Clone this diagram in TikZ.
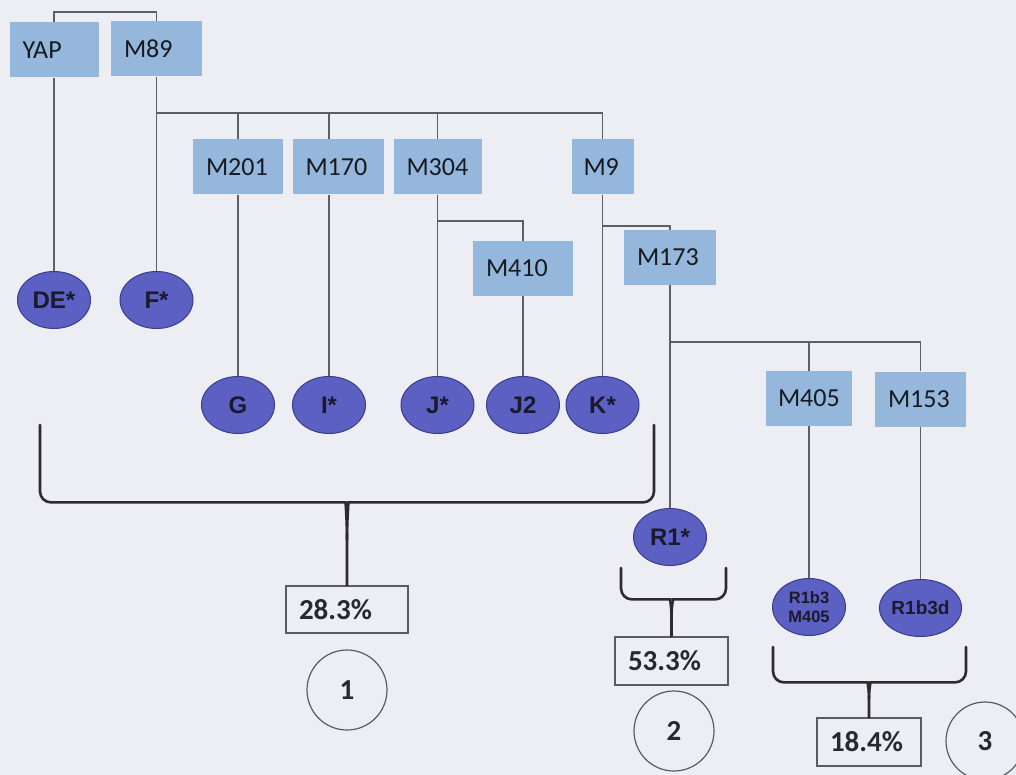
\documentclass[tikz,border=0pt]{standalone}
\usepackage{fontspec}
\setmainfont{Carlito}
\newfontfamily\hapfamily{Liberation Sans}
\usetikzlibrary{shapes.geometric,calc}

\definecolor{paper}{HTML}{EDEDF4}
\definecolor{boxblue}{HTML}{95B7DC}
\definecolor{boxink}{HTML}{161B22}
\definecolor{hapblue}{HTML}{5B60C2}
\definecolor{hapedge}{HTML}{3A3D88}
\definecolor{hapink}{HTML}{1A1A2C}
\definecolor{linkgray}{HTML}{5E5E66}
\definecolor{bracecol}{HTML}{302A30}
\definecolor{framegray}{HTML}{5A5A60}
\definecolor{pctink}{HTML}{262A30}

\tikzset{
  mbox/.style={fill=boxblue, draw=none, minimum height=55pt, inner xsep=13pt,
    inner ysep=0pt, align=left, text=boxink, font=\fontsize{26}{30}\selectfont},
  hap/.style={ellipse, fill=hapblue, draw=hapedge, line width=1pt,
    minimum width=73pt, minimum height=57pt, inner sep=0pt, align=center,
    text=hapink, font=\hapfamily\bfseries\fontsize{24}{28}\selectfont},
  link/.style={draw=linkgray, line width=1.3pt},
  brace/.style={draw=bracecol, line width=2.6pt, line cap=round, line join=round},
  pct/.style={draw=framegray, line width=1.2pt, fill=paper, inner xsep=13pt,
    inner ysep=0pt, align=left, text=pctink,
    font=\bfseries\fontsize{29}{33}\selectfont},
  grp/.style={circle, draw=framegray, line width=1.2pt, inner sep=0pt,
    text=pctink, font=\bfseries\fontsize{29}{33}\selectfont}
}

% curly bracket from two arm tops down to the node below its middle
% #1 left arm top, #2 right arm top, #3 drop from bar to node top, #4 node
\newcommand{\groupbrace}[4]{%
  \draw[brace] (#1) [rounded corners=11pt] |- ($(#4.north)+(-12,-#3)$)
    [sharp corners] .. controls +(10,0) and +(0,-0.3*#3) .. ($(#4.north)+(0,-0.55*#3)$)
    -- (#4.north);
  \draw[brace] (#2) [rounded corners=11pt] |- ($(#4.north)+(12,-#3)$)
    [sharp corners] .. controls +(-10,0) and +(0,-0.3*#3) .. ($(#4.north)+(0,-0.55*#3)$);
}

\begin{document}
\begin{tikzpicture}[x=1pt,y=-1pt]
  \useasboundingbox (0,0) rectangle (1016,775);
  \fill[paper] (0,0) rectangle (1016,775);

  % marker boxes
  \node[mbox, text width=63pt] (yap)  at (54,50)      {YAP};
  \node[mbox, text width=65pt] (m89)  at (156.5,49)   {M89};
  \node[mbox, text width=64pt] (m201) at (238,167)    {M201};
  \node[mbox, text width=65pt] (m170) at (338,167)    {M170};
  \node[mbox, text width=62pt] (m304) at (437.5,167)  {M304};
  \node[mbox, text width=38pt, inner xsep=12pt] (m9) at (602.5,167) {M9};
  \node[mbox, text width=74pt] (m410) at (523,268.5)  {M410};
  \node[mbox, text width=66pt] (m173) at (670,257.5)  {M173};
  \node[mbox, text width=62pt, inner xsep=12pt] (m405) at (809,398.5) {M405};
  \node[mbox, text width=65pt] (m153) at (920.5,399)  {M153};

  % haplogroups
  \node[hap] (de)  at (54,300)    {DE*};
  \node[hap] (f)   at (156.5,300) {F*};
  \node[hap] (g)   at (238,405)   {G};
  \node[hap] (i)   at (329,405)   {I*};
  \node[hap] (j)   at (437.5,405) {J*};
  \node[hap] (j2)  at (523,405)   {J2};
  \node[hap] (k)   at (602.5,405) {K*};
  \node[hap] (r1)  at (670,537)   {R1*};
  \node[hap, font=\hapfamily\bfseries\fontsize{16.5}{19}\selectfont] (r1b3) at (809,607) {R1b3\\M405};
  \node[hap, font=\hapfamily\bfseries\fontsize{19}{22}\selectfont] (r1b3d) at (920.5,608) {R1b3d};

  % tree connectors
  \coordinate (bar0) at (105,12);
  \coordinate (bar1) at (0,113);
  \coordinate (bar2) at (0,221);
  \coordinate (bar3) at (0,226);
  \coordinate (bar4) at (0,342);

  \draw[link] (yap.north) |- (bar0) -| (m89.north);
  \draw[link] (yap.south) -- (de.north);
  \draw[link] (m89.south) -- (f.north);

  \draw[link] (m89.south |- bar1) -| (m9.north);
  \draw[link] (m201.north) -- (m201.north |- bar1);
  \draw[link] (i.north |- m170.north) -- (i.north |- bar1);
  \draw[link] (m304.north) -- (m304.north |- bar1);

  \draw[link] (m201.south) -- (g.north);
  \draw[link] (i.north |- m170.south) -- (i.north);
  \draw[link] (m304.south) -- (j.north);
  \draw[link] (m304.south |- bar2) -| (m410.north);
  \draw[link] (m410.south) -- (j2.north);

  \draw[link] (m9.south) -- (k.north);
  \draw[link] (m9.south |- bar3) -| (m173.north);
  \draw[link] (m173.south) -- (r1.north);

  \draw[link] (m173.south |- bar4) -| (m153.north);
  \draw[link] (m405.north) -- (m405.north |- bar4);
  \draw[link] (m405.south) -- (r1b3.north);
  \draw[link] (m153.south) -- (r1b3d.north);

  % frequency boxes
  \node[pct, text width=96pt, minimum height=47pt] (p1) at (347,609.5) {28.3\%};
  \node[pct, text width=87pt, minimum height=48pt] (p2) at (671.5,661) {53.3\%};
  \node[pct, text width=78pt, minimum height=48pt] (p3) at (869,742)   {18.4\%};

  % group numbers
  \node[grp, minimum size=80pt] (g1) at (347,690)   {1};
  \node[grp, minimum size=80pt] (g2) at (674,731)   {2};
  \node[grp, minimum size=78pt] (g3) at (985,741)   {3};

  % brackets
  \coordinate (b1l) at (40,425);
  \coordinate (b1r) at (654,425);
  \coordinate (b2l) at (621,568);
  \coordinate (b2r) at (726,568);
  \coordinate (b3l) at (773,647);
  \coordinate (b3r) at (966,647);
  \groupbrace{b1l}{b1r}{83}{p1}
  \groupbrace{b2l}{b2r}{37}{p2}
  \groupbrace{b3l}{b3r}{35}{p3}
\end{tikzpicture}
\end{document}
